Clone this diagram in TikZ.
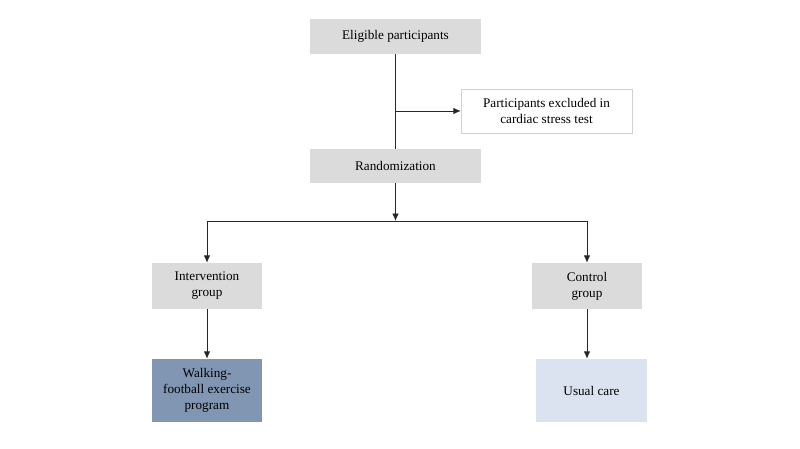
\documentclass[tikz,border=0pt]{standalone}
\usepackage{fontspec}
\setmainfont{Liberation Serif}
\usepackage{tikz}
\usetikzlibrary{arrows.meta}

\begin{document}
\begin{tikzpicture}
        [
          x=1pt, y=-1pt,
          every node/.style={align=center, font=\fontsize{13.2}{16}\selectfont, inner sep=0pt},
          graybox/.style={fill=black!14, minimum width=171pt},
          smallbox/.style={fill=black!14, minimum width=110pt, minimum height=46pt},
          link/.style={draw=black!85, line width=0.9pt, -{Latex[length=7.5pt,width=6.5pt]}}
        ]
        \useasboundingbox (0,0) rectangle (800,448);

        \node[graybox, minimum height=35pt] (eligible) at (395.5,36.5) {Eligible participants};
        \node[draw=black!18, fill=white, minimum width=171pt, minimum height=44pt] (excluded) at (546.5,111)
          {Participants excluded in\\cardiac stress test};
        \node[graybox, minimum height=34pt] (random) at (395.5,166) {Randomization};

        \node[smallbox] (interv) at (207,286) {Intervention\\group};
        \node[smallbox] (control) at (587,286) {Control\\group};

        \node[fill={rgb,255:red,128;green,150;blue,178}, minimum width=110pt, minimum height=63pt] (walking) at (207,390.5)
          {Walking-\\football exercise\\program};
        \node[fill={rgb,255:red,219;green,227;blue,240}, minimum width=111pt, minimum height=63pt] (usual) at (591.5,390.5)
          {Usual care};

        \coordinate (branch) at (395.5,111);
        \coordinate (split) at (395.5,221);

        \draw[link, -] (eligible) -- (random);
        \draw[link] (branch) -- (excluded);
        \draw[link] (random) -- (split);
        \draw[link] (split) -| (interv.north);
        \draw[link] (split) -| (control.north);
        \draw[link] (interv) -- (walking);
        \draw[link] (control.south) -- (control.south |- usual.north);
    \end{tikzpicture}
\end{document}
